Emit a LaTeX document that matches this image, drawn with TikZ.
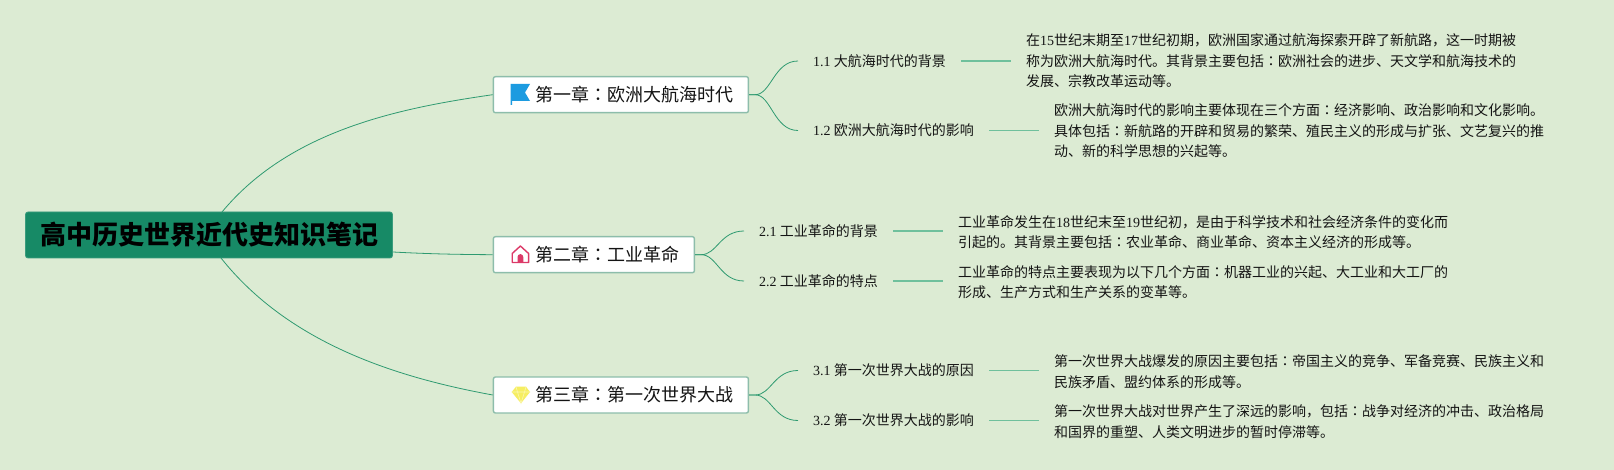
\documentclass[tikz,border=0pt]{standalone}
\usetikzlibrary{calc}
\usepackage{fontspec}
\setmainfont{Noto Sans CJK SC}
\newfontfamily\lat{Liberation Serif}
\newfontfamily\tc{Noto Sans CJK TC}
\newcommand{\cc}{{\tc ：}}
\newcommand{\nm}[1]{{\lat #1}}
\definecolor{bgc}{HTML}{DCEBD3}
\definecolor{rootc}{HTML}{178A66}
\definecolor{rimc}{HTML}{8DBDAB}
\definecolor{mainl}{HTML}{2E9A70}
\definecolor{subl}{HTML}{6FC09C}
\definecolor{inkc}{HTML}{141414}
\definecolor{flagc}{HTML}{1C9BE0}
\definecolor{homec}{HTML}{DC3A68}
\definecolor{gemc}{HTML}{F6EE62}
\definecolor{gemd}{HTML}{FBF7B0}
\tikzset{
  x=1pt,y=1pt,
  rootbox/.style={fill=rootc,draw=rootc!85!white,line width=.8pt,rounded corners=2.5pt,inner xsep=0pt,inner ysep=0pt,minimum width=367pt,minimum height=46pt,text=black,font=\fontsize{26}{30}\selectfont\bfseries},
  chapbox/.style={fill=white,draw=rimc,line width=1.4pt,rounded corners=2pt,inner sep=0pt,minimum height=36pt,text=inkc,font=\fontsize{18}{22}\selectfont,anchor=west},
  sublabel/.style={inner ysep=2pt,inner xsep=15pt,text=inkc,font=\fontsize{14}{18}\selectfont,anchor=west},
  detail/.style={inner ysep=0pt,inner xsep=15pt,text=inkc,align=left,font=\fontsize{14}{20.6}\selectfont,anchor=west},
  rootlink/.style={draw=mainl,line width=.8pt},
  chaplink/.style={draw=mainl,line width=.8pt},
  leaflink/.style={draw=subl,line width=1.2pt,yshift=.5pt},
}
\newcommand{\chaptext}[1]{\hspace{42pt}\raisebox{-2.2pt}{#1}\hspace{15pt}\mbox{}}
\begin{document}
\begin{tikzpicture}
\fill[bgc] (0,0) rectangle (1614,-470);
\useasboundingbox (0,0) rectangle (1614,-470);

% nodes
\node[rootbox] (root) at (209,-235) {高中历史世界近代史知识笔记};
\node[chapbox] (c1) at (492.7,-94.7) {\chaptext{第一章\cc 欧洲大航海时代}};
\node[chapbox] (c2) at (492.7,-254.7) {\chaptext{第二章\cc 工业革命}};
\node[chapbox] (c3) at (492.7,-395) {\chaptext{第三章\cc 第一次世界大战}};

\node[sublabel] (s11) at (798,-61) {\nm{1.1} 大航海时代的背景};
\node[sublabel] (s12) at (798,-130.5) {\nm{1.2} 欧洲大航海时代的影响};
\node[sublabel] (s21) at (744,-231) {\nm{2.1} 工业革命的背景};
\node[sublabel] (s22) at (744,-281) {\nm{2.2} 工业革命的特点};
\node[sublabel] (s31) at (798,-370.5) {\nm{3.1} 第一次世界大战的原因};
\node[sublabel] (s32) at (798,-420.5) {\nm{3.2} 第一次世界大战的影响};

\node[detail] (d11) at (1011,-61) {在\nm{15}世纪末期至\nm{17}世纪初期，欧洲国家通过航海探索开辟了新航路，这一时期被\\称为欧洲大航海时代。其背景主要包括\cc 欧洲社会的进步、天文学和航海技术的\\发展、宗教改革运动等。};
\node[detail] (d12) at (1039,-131) {欧洲大航海时代的影响主要体现在三个方面\cc 经济影响、政治影响和文化影响。\\具体包括\cc 新航路的开辟和贸易的繁荣、殖民主义的形成与扩张、文艺复兴的推\\动、新的科学思想的兴起等。};
\node[detail] (d21) at (943,-232) {工业革命发生在\nm{18}世纪末至\nm{19}世纪初，是由于科学技术和社会经济条件的变化而\\引起的。其背景主要包括\cc 农业革命、商业革命、资本主义经济的形成等。};
\node[detail] (d22) at (943,-282) {工业革命的特点主要表现为以下几个方面\cc 机器工业的兴起、大工业和大工厂的\\形成、生产方式和生产关系的变革等。};
\node[detail] (d31) at (1039,-371.5) {第一次世界大战爆发的原因主要包括\cc 帝国主义的竞争、军备竞赛、民族主义和\\民族矛盾、盟约体系的形成等。};
\node[detail] (d32) at (1039,-421.5) {第一次世界大战对世界产生了深远的影响，包括\cc 战争对经济的冲击、政治格局\\和国界的重塑、人类文明进步的暂时停滞等。};

% root connectors
\coordinate (rt) at (222,-212);
\coordinate (rb) at (221,-258);
\coordinate (rr) at (393,-252);
\draw[rootlink] (rt) .. controls (290,-130) and (400,-108) .. (c1.west);
\draw[rootlink] (rr) .. controls (430,-254) and (460,-254.5) .. (c2.west);
\draw[rootlink] (rb) .. controls (290,-345) and (400,-378) .. (c3.west);

% chapter to section connectors
\foreach \c/\s in {c1/s11,c1/s12,c2/s21,c2/s22,c3/s31,c3/s32}{
  \draw[chaplink] (\c.east) -- ++(6,0) .. controls ($(\c.east)+(22,0)$) and ($(\s.west)+(-24,0)$) .. (\s.west);
}
% section to detail connectors
\foreach \s/\d in {s11/d11,s12/d12,s21/d21,s22/d22,s31/d31,s32/d32}{
  \draw[leaflink] (\s.east) -- (\s.east -| \d.west);
}

% flag icon
\fill[flagc] (510.7,-84) -- (530,-84) -- (525,-92.5) -- (530,-101) -- (512,-101) -- (512,-105) -- (510.7,-105) -- cycle;
% home icon
\draw[homec,line width=1.4pt,line join=round] (512.2,-262.5) -- (512.2,-253.5) -- (520.4,-246) -- (528.6,-253.5) -- (528.6,-262.5) -- cycle;
\fill[homec] (517.5,-262.5) -- (517.5,-257) arc[start angle=180,end angle=0,radius=2.9] -- (523.3,-262.5) -- cycle;
% diamond icon
\fill[gemc] (516,-386.7) -- (526,-386.7) -- (530,-392) -- (521,-403.3) -- (511.7,-392) -- cycle;
\draw[gemd,line width=.6pt] (511.7,-392) -- (530,-392) (516,-386.7) -- (517.5,-392) -- (521,-403.3) -- (524.5,-392) -- (526,-386.7);
\end{tikzpicture}
\end{document}
